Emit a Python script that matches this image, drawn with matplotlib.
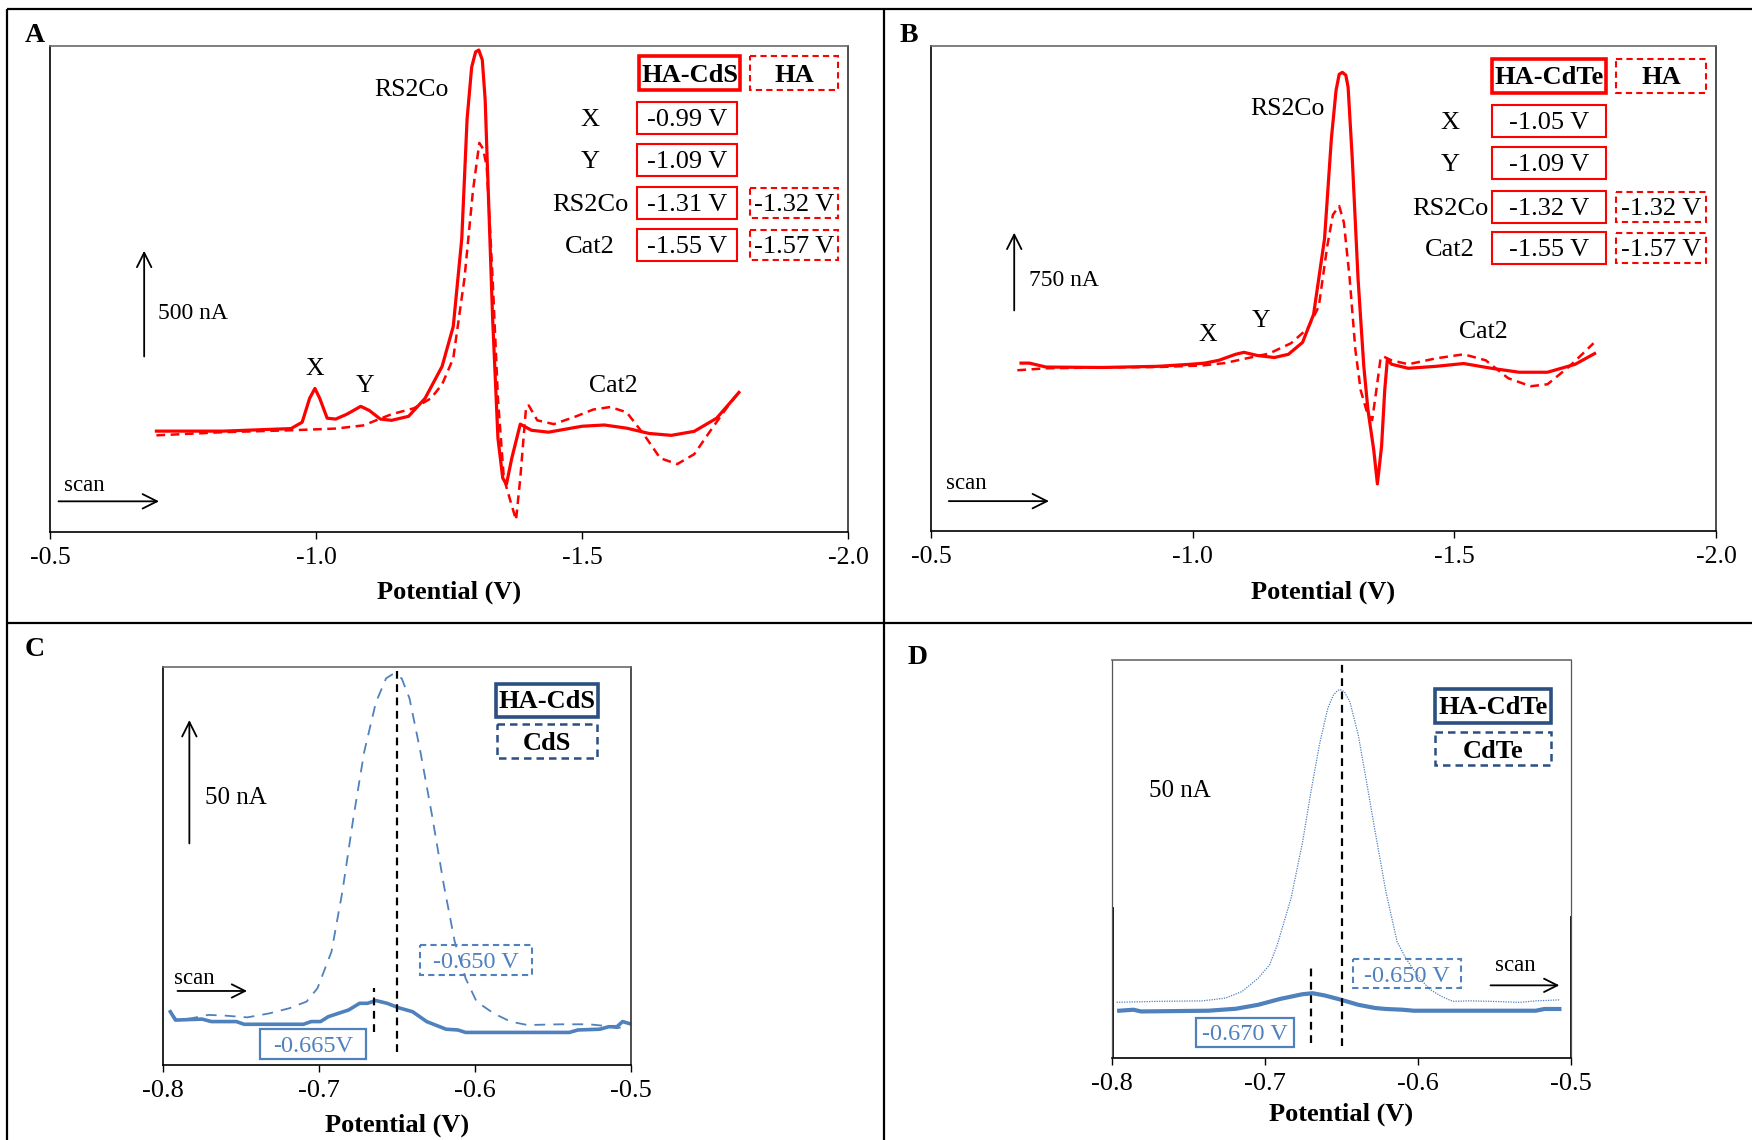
import matplotlib
matplotlib.use("Agg")
import matplotlib.pyplot as plt
from matplotlib.patches import Rectangle

plt.rcParams['font.family'] = ['Liberation Serif', 'DejaVu Serif']
plt.rcParams['font.size'] = 18

W, H = 1752, 1140

# ---------------- data ----------------
# Panel A (HA-CdS vs HA), potential V, current nA
A_solid_V = [-0.700, -0.826, -0.953, -0.974, -0.988, -0.998, -1.007, -1.021, -1.037, -1.058, -1.084,
             -1.100, -1.121, -1.142, -1.174, -1.205, -1.237, -1.258, -1.274, -1.284, -1.2926, -1.300,
             -1.306, -1.3126, -1.318, -1.323, -1.332, -1.342, -1.351, -1.358, -1.368, -1.384, -1.405,
             -1.437, -1.500, -1.542, -1.584, -1.626, -1.668, -1.711, -1.753, -1.779, -1.795]
A_solid_I = [477, 477, 489, 519, 632, 679, 632, 538, 534, 557, 594, 575, 534, 528, 547, 632, 783, 972,
             1387, 1953, 2198, 2270, 2279, 2232, 2043, 1670, 1010, 443, 255, 226, 349, 510, 481, 472,
             500, 506, 491, 466, 457, 476, 538, 613, 660]
A_dash_V = [-0.700, -0.826, -0.953, -1.037, -1.089, -1.142, -1.184, -1.216, -1.237, -1.258, -1.279,
            -1.295, -1.307, -1.314, -1.321, -1.332, -1.342, -1.353, -1.366, -1.376, -1.384, -1.395,
            -1.400, -1.416, -1.447, -1.489, -1.521, -1.553, -1.584, -1.616, -1.647, -1.679, -1.711,
            -1.742, -1.774, -1.795]
A_dash_I = [457, 472, 481, 489, 504, 557, 585, 632, 698, 821, 1198, 1613, 1840, 1812, 1727, 1198, 632,
            255, 142, 57, 255, 594, 598, 528, 510, 547, 579, 591, 566, 462, 349, 321, 368, 481, 594, 660]

# Panel B (HA-CdTe vs HA)
B_solid_V = [-0.672, -0.688, -0.720, -0.827, -0.933, -0.997, -1.023, -1.050, -1.082, -1.098, -1.124,
             -1.156, -1.183, -1.210, -1.231, -1.252, -1.265, -1.274, -1.280, -1.286, -1.2926, -1.297,
             -1.305, -1.316, -1.327, -1.335, -1.346, -1.353, -1.361, -1.367, -1.372, -1.380, -1.412,
             -1.465, -1.518, -1.571, -1.624, -1.678, -1.731, -1.768]
B_solid_I = [1619, 1619, 1581, 1577, 1588, 1608, 1619, 1646, 1704, 1723, 1692, 1673, 1704, 1819, 2088,
             2819, 3781, 4250, 4404, 4423, 4396, 4281, 3588, 2434, 1588, 1165, 781, 454, 819, 1358,
             1654, 1608, 1569, 1588, 1615, 1569, 1531, 1531, 1608, 1711]
B_dash_V = [-0.665, -0.720, -0.827, -0.933, -1.018, -1.061, -1.103, -1.146, -1.188, -1.220, -1.241,
            -1.257, -1.268, -1.280, -1.289, -1.300, -1.311, -1.321, -1.332, -1.343, -1.351, -1.359,
            -1.364, -1.380, -1.412, -1.465, -1.518, -1.560, -1.603, -1.646, -1.678, -1.720, -1.752,
            -1.766]
B_dash_I = [1550, 1569, 1577, 1581, 1596, 1619, 1665, 1711, 1811, 1954, 2165, 2742, 3050, 3134, 2973,
            2434, 1742, 1358, 1165, 1069, 1358, 1665, 1684, 1646, 1608, 1665, 1704, 1646, 1473, 1396,
            1415, 1588, 1742, 1811]

# Panel C (HA-CdS vs CdS)
C_dash_V = [-0.7946, -0.791, -0.782, -0.771, -0.760, -0.746, -0.732, -0.719, -0.708, -0.701, -0.692,
            -0.685, -0.678, -0.671, -0.6635, -0.657, -0.653, -0.647, -0.642, -0.635, -0.6275, -0.620,
            -0.613, -0.606, -0.599, -0.588, -0.5772, -0.5664, -0.545, -0.527, -0.516, -0.509, -0.502]
C_dash_I = [20.9, 18.2, 18.9, 20.3, 20.0, 19.3, 20.9, 23.0, 25.7, 31.1, 45.9, 70.3, 100, 127, 147,
            156.7, 158.3, 156.7, 148.6, 127, 101, 73, 50, 35.1, 25.7, 20.9, 17.6, 16.2, 16.5, 16.5,
            15.8, 14.9, 15.8]
C_solid_V = [-0.7953, -0.792, -0.775, -0.769, -0.753, -0.748, -0.710, -0.705, -0.699, -0.694, -0.681,
             -0.674, -0.669, -0.6635, -0.6563, -0.649, -0.640, -0.631, -0.6185, -0.611, -0.606,
             -0.5395, -0.534, -0.520, -0.5143, -0.509, -0.5054, -0.500]
C_solid_I = [21.6, 18.2, 18.6, 17.6, 17.6, 16.5, 16.5, 17.6, 17.6, 19.6, 22.3, 25.0, 25.0, 26.1, 25.0,
             23.2, 21.6, 17.6, 14.5, 14.2, 13.2, 13.2, 14.2, 14.5, 15.5, 15.5, 17.6, 16.6]
C_peak_lines = [(-0.650, 5.4, 159.6), (-0.665, 13.5, 31.1)]

# Panel D (HA-CdTe vs CdTe)
D_dot_V = [-0.797, -0.770, -0.741, -0.726, -0.715, -0.7045, -0.697, -0.692, -0.683, -0.6754, -0.670,
           -0.6645, -0.659, -0.6554, -0.653, -0.651, -0.648, -0.6445, -0.639, -0.6336, -0.628, -0.621,
           -0.6137, -0.608, -0.5991, -0.5919, -0.5846, -0.5773, -0.5664, -0.5519, -0.5337, -0.5228,
           -0.5076]
D_dot_I = [22.6, 23.0, 23.2, 24.3, 27.0, 32.4, 37.8, 45.9, 64.8, 87.8, 108, 127, 141.9, 147.3, 148.9,
           149.7, 148.6, 144.6, 131, 112, 91.9, 67.6, 47.3, 40.5, 32.4, 27.7, 25.0, 23.0, 23.2, 23.0,
           22.6, 23.2, 23.6]
D_solid_V = [-0.7953, -0.786, -0.781, -0.737, -0.719, -0.7045, -0.690, -0.6754, -0.6689, -0.661, -0.650,
             -0.639, -0.628, -0.621, -0.610, -0.6028, -0.588, -0.523, -0.5174, -0.5076]
D_solid_I = [19.2, 19.6, 18.9, 19.2, 20.0, 21.6, 24.0, 25.9, 26.3, 25.4, 23.6, 21.6, 20.3, 19.9, 19.6,
             19.2, 19.2, 19.2, 19.9, 19.9]
D_peak_lines = [(-0.650, 4.7, 161.6), (-0.670, 6.1, 38.5)]

AB_ticks = [-0.5, -1.0, -1.5, -2.0]
AB_ticklabels = ['-0.5', '-1.0', '-1.5', '-2.0']
CD_ticks = [-0.8, -0.7, -0.6, -0.5]
CD_ticklabels = ['-0.8', '-0.7', '-0.6', '-0.5']

table_rows = ['X', 'Y', 'RS2Co', 'Cat2']
A_table_main = ['-0.99 V', '-1.09 V', '-1.31 V', '-1.55 V']
A_table_ha = [None, None, '-1.32 V', '-1.57 V']
B_table_main = ['-1.05 V', '-1.09 V', '-1.32 V', '-1.55 V']
B_table_ha = [None, None, '-1.32 V', '-1.57 V']

RED = '#FF0000'
BLUE = '#4F81BD'
NAVY = '#2B4F81'

fig = plt.figure(figsize=(W / 100, H / 100), dpi=100)


def rect(l, t, r, b):
    return [l / W, 1 - b / H, (r - l) / W, (b - t) / H]


def style_axes(ax, ticks, labels, xlim, ylim, label_y, fs):
    ax.set_xlim(*xlim)
    ax.set_ylim(*ylim)
    ax.set_yticks([])
    ax.set_xticks(ticks)
    ax.set_xticklabels(labels)
    ax.tick_params(axis='x', direction='out', length=5, width=1.0, labelsize=fs, pad=6)
    ax.set_xlabel('Potential (V)', fontsize=19, fontweight='bold')
    ax.xaxis.set_label_coords(0.5, label_y)
    ax.xaxis.label.set_va('center')
    for s in ['left', 'bottom']:
        ax.spines[s].set_color('black')
        ax.spines[s].set_linewidth(1.2)
    ax.spines['top'].set_color('#6a6a6a')
    ax.spines['right'].set_color('#303030')
    ax.spines['top'].set_linewidth(1.2)
    ax.spines['right'].set_linewidth(1.2)


def arrow(ax, tail, tip, lw=1.3, ms=26):
    ax.annotate('', xy=tip, xytext=tail,
                arrowprops=dict(arrowstyle='->', color='black', lw=lw, mutation_scale=ms,
                                shrinkA=0, shrinkB=0))


def label(ax, x, y, s, fs=18.5, ha='center'):
    ax.annotate(s, xy=(x, y), xytext=(0, -2), textcoords='offset points',
                ha=ha, va='center', fontsize=fs)


# ---------------- Panel A ----------------
axA = fig.add_axes(rect(50, 46, 848, 532))
axA.plot(A_solid_V, A_solid_I, color=RED, lw=2.3, solid_joinstyle='round')
axA.plot(A_dash_V, A_dash_I, color=RED, lw=1.8, dashes=(3.5, 2.2))
style_axes(axA, AB_ticks, AB_ticklabels, (-0.5, -2.0), (0, 2298), -0.1235, 18.5)
label(axA, -1.179, 2104, 'RS2Co')
label(axA, -0.998, 783, 'X')
label(axA, -1.092, 704, 'Y')
label(axA, -1.558, 704, 'Cat2')
arrow(axA, (-0.677, 830), (-0.677, 1330))
label(axA, -0.703, 1047, '500 nA', fs=17, ha='left')
label(axA, -0.565, 232, 'scan', fs=16.5)
arrow(axA, (-0.516, 145), (-0.705, 145))

# ---------------- Panel B ----------------
axB = fig.add_axes(rect(931, 46, 1716, 531))
axB.plot(B_solid_V, B_solid_I, color=RED, lw=2.3, solid_joinstyle='round')
axB.plot(B_dash_V, B_dash_I, color=RED, lw=1.8, dashes=(3.5, 2.2))
style_axes(axB, AB_ticks, AB_ticklabels, (-0.5, -2.0), (0, 4677), -0.1258, 18.5)
label(axB, -1.181, 4096, 'RS2Co')
label(axB, -1.029, 1915, 'X')
label(axB, -1.130, 2050, 'Y')
label(axB, -1.555, 1942, 'Cat2')
arrow(axB, (-0.659, 2127), (-0.659, 2877))
label(axB, -0.688, 2446, '750 nA', fs=17, ha='left')
label(axB, -0.568, 481, 'scan', fs=16.5)
arrow(axB, (-0.534, 288), (-0.7255, 288))

# ---------------- Panel C ----------------
axC = fig.add_axes(rect(163, 667, 631, 1065))
axC.plot(C_dash_V, C_dash_I, color=BLUE, lw=1.3, dashes=(6, 4.5))
axC.plot(C_solid_V, C_solid_I, color=BLUE, lw=2.6)
for v, i0, i1 in C_peak_lines:
    axC.plot([v, v], [i0, i1], color='black', lw=1.6, dashes=(3.5, 2.5))
style_axes(axC, CD_ticks, CD_ticklabels, (-0.8, -0.5), (0, 161.3), -0.1508, 19)
arrow(axC, (-0.7831, 89.8), (-0.7831, 139.8))
label(axC, -0.773, 109.4, '50 nA', fs=18, ha='left')
label(axC, -0.780, 36.1, 'scan', fs=16.5)
arrow(axC, (-0.7907, 30.0), (-0.7461, 30.0), ms=24)

# ---------------- Panel D ----------------
axD = fig.add_axes(rect(1112, 660, 1571, 1058))
axD.plot(D_dot_V, D_dot_I, color=BLUE, lw=0.9, linestyle=(0, (1, 1)))
axD.plot(D_solid_V, D_solid_I, color=BLUE, lw=3.0)
for v, i0, i1 in D_peak_lines:
    axD.plot([v, v], [i0, i1], color='black', lw=1.6, dashes=(3.5, 2.5))
style_axes(axD, CD_ticks, CD_ticklabels, (-0.8, -0.5), (0, 161.6), -0.1407, 19)
axD.spines['left'].set_color('#555555')
axD.spines['left'].set_linewidth(0.9)
axD.spines['right'].set_color('#555555')
axD.spines['right'].set_linewidth(0.9)
axD.axvline(-0.8, ymin=0, ymax=0.377, color='black', lw=2.0)
axD.axvline(-0.5, ymin=0, ymax=0.354, color='black', lw=2.0)
label(axD, -0.776, 109.4, '50 nA', fs=18, ha='left')
label(axD, -0.5367, 38.8, 'scan', fs=16.5)
arrow(axD, (-0.5526, 29.5), (-0.5076, 29.5), ms=24)

# ---------------- overlay (frames, tables, labels) ----------------
ov = fig.add_axes([0, 0, 1, 1], zorder=10)
ov.set_xlim(0, W)
ov.set_ylim(H, 0)
ov.axis('off')
ov.patch.set_alpha(0)

for xs, ys in [((7, W), (9, 9)), ((7, 7), (9, H)), ((884, 884), (9, H)), ((7, W), (623, 623))]:
    ov.plot(xs, ys, color='black', lw=1.6, solid_capstyle='butt')


def box(x0, y0, x1, y1, color, lw, ls='-'):
    ov.add_patch(Rectangle((x0, y0), x1 - x0, y1 - y0, fill=False, ec=color, lw=lw,
                           linestyle=ls, joinstyle='miter'))


def btext(x, y, s, color='black', fs=19, bold=False):
    ov.text(x, y + 2, s, ha='center', va='center', fontsize=fs, color=color,
            fontweight='bold' if bold else 'normal')


# panel letters
for (x, y), s in zip([(35, 33), (909, 33), (35, 648), (918, 656)], ['A', 'B', 'C', 'D']):
    btext(x, y, s, fs=20, bold=True)

DASH = (0, (3, 2))


def draw_table(hdr_x0, hdr_x1, hdr_y0, hdr_y1, ha_x0, ha_x1,
               col_x0, col_x1, row_y, label_x, main_vals, ha_vals, main_name):
    box(hdr_x0, hdr_y0, hdr_x1, hdr_y1, RED, 2.6)
    btext((hdr_x0 + hdr_x1) / 2, (hdr_y0 + hdr_y1) / 2, main_name, bold=True)
    box(ha_x0, hdr_y0, ha_x1, hdr_y1, RED, 1.5, DASH)
    btext((ha_x0 + ha_x1) / 2, (hdr_y0 + hdr_y1) / 2, 'HA', bold=True)
    for lab, yc, mv, hv in zip(table_rows, row_y, main_vals, ha_vals):
        btext(label_x, yc, lab)
        box(col_x0, yc - 16, col_x1, yc + 16, RED, 1.5)
        btext((col_x0 + col_x1) / 2, yc, mv)
        if hv is not None:
            box(ha_x0, yc - 15, ha_x1, yc + 15, RED, 1.5, DASH)
            btext((ha_x0 + ha_x1) / 2, yc, hv)


draw_table(639, 740, 56, 90, 750, 838, 637, 737, [118, 160, 203, 245], 590,
           A_table_main, A_table_ha, 'HA-CdS')
draw_table(1492, 1606, 59, 93, 1616, 1706, 1492, 1606, [121, 163, 207, 248], 1450,
           B_table_main, B_table_ha, 'HA-CdTe')

# Panel C legend/labels
box(496, 684, 598, 717, NAVY, 2.6)
btext(547, 700, 'HA-CdS', bold=True)
box(497, 724, 597, 758, NAVY, 1.8, DASH)
btext(547, 741, 'CdS', bold=True)
box(420, 945, 532, 975, BLUE, 1.5, DASH)
btext(476, 960, '-0.650 V', color=BLUE, fs=17.5)
box(260, 1029, 366, 1059, BLUE, 1.6)
btext(313, 1044, '-0.665V', color=BLUE, fs=17.5)

# Panel D legend/labels
box(1435, 689, 1551, 723, NAVY, 2.6)
btext(1493, 706, 'HA-CdTe', bold=True)
box(1435, 732, 1551, 765, NAVY, 1.8, DASH)
btext(1493, 749, 'CdTe', bold=True)
box(1353, 959, 1461, 988, BLUE, 1.5, DASH)
btext(1407, 974, '-0.650 V', color=BLUE, fs=17.5)
box(1196, 1018, 1294, 1047, BLUE, 1.6)
btext(1245, 1033, '-0.670 V', color=BLUE, fs=17.5)

fig.savefig('out.png', dpi=100)
